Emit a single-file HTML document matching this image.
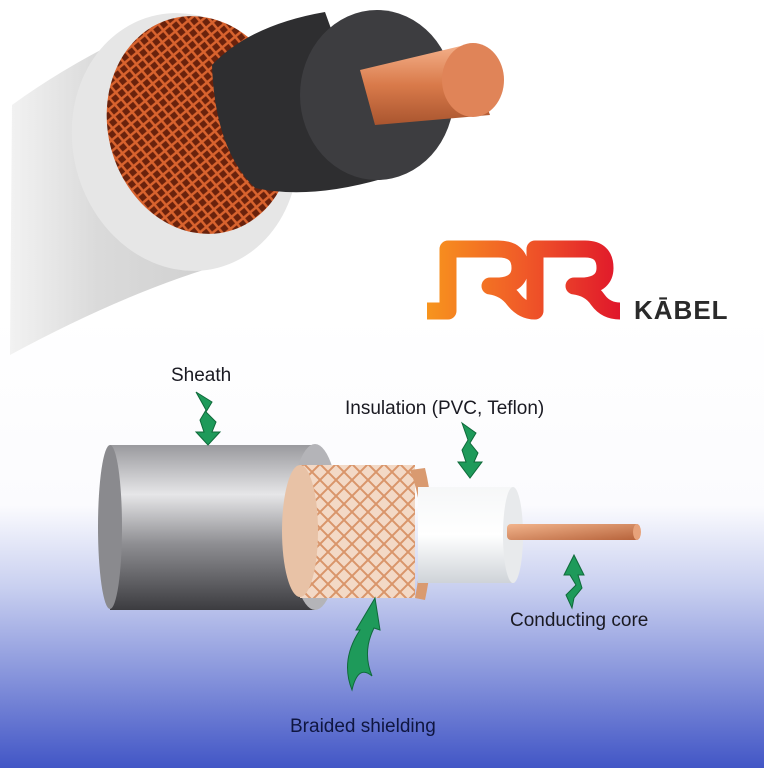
<!DOCTYPE html>
<html><head><meta charset="utf-8"><style>
body{margin:0;width:768px;height:768px;overflow:hidden;background:#fff;font-family:"Liberation Sans",sans-serif}
svg{display:block}
</style></head><body>
<svg width="768" height="768" viewBox="0 0 768 768" xmlns="http://www.w3.org/2000/svg">
<defs>
<linearGradient id="bg" x1="0" y1="0" x2="0" y2="1">
<stop offset="0" stop-color="#fff"/><stop offset="0.42" stop-color="#fbfbfe"/><stop offset="0.6" stop-color="#c9d0f0"/><stop offset="1" stop-color="#4256c6"/></linearGradient>
<linearGradient id="sheath" x1="0" y1="0" x2="0" y2="1">
<stop offset="0" stop-color="#9a9a9e"/><stop offset="0.3" stop-color="#e6e6e8"/><stop offset="0.6" stop-color="#8e8e92"/><stop offset="1" stop-color="#3c3c40"/></linearGradient>
<linearGradient id="cu" x1="0" y1="0" x2="0" y2="1">
<stop offset="0" stop-color="#f4b08a"/><stop offset="0.5" stop-color="#d97a4a"/><stop offset="1" stop-color="#a9552f"/></linearGradient>
<linearGradient id="ins" x1="0" y1="0" x2="0" y2="1">
<stop offset="0" stop-color="#f6f7f8"/><stop offset="0.5" stop-color="#ffffff"/><stop offset="1" stop-color="#cfd3d8"/></linearGradient>
<linearGradient id="logo" x1="0" y1="0" x2="1" y2="0">
<stop offset="0" stop-color="#f7941d"/><stop offset="0.5" stop-color="#f05a28"/><stop offset="1" stop-color="#e0162b"/></linearGradient>
<linearGradient id="tgrey" x1="0" y1="0" x2="1" y2="0">
<stop offset="0" stop-color="#f2f2f2"/><stop offset="0.4" stop-color="#dadada"/><stop offset="1" stop-color="#cfcfcf"/></linearGradient>
<linearGradient id="core2" x1="0" y1="0" x2="1" y2="1">
<stop offset="0" stop-color="#f2b48c"/><stop offset="1" stop-color="#b6623a"/></linearGradient>
<pattern id="braid" width="12" height="12" patternUnits="userSpaceOnUse" patternTransform="rotate(20)">
<rect width="12" height="12" fill="#6a220c"/>
<path d="M0 0L12 12M12 0L0 12" stroke="#d9632e" stroke-width="2.5"/></pattern>
<pattern id="braid2" width="16" height="16" patternUnits="userSpaceOnUse">
<rect width="16" height="16" fill="#f3d9c6"/>
<path d="M0 0L16 16M16 0L0 16" stroke="#d9956a" stroke-width="2"/></pattern>
</defs>
<rect width="768" height="768" fill="#fff"/>
<path d="M0 315 L756 315 Q764 315 764 325 L764 768 L0 768Z" fill="url(#bg)"/>
<!-- top cable -->
<path d="M12 105 Q60 70 120 40 L230 262 Q130 290 10 355Z" fill="url(#tgrey)"/>
<ellipse cx="185" cy="142" rx="112" ry="130" transform="rotate(-15 185 142)" fill="#e6e6e6"/>
<ellipse cx="200" cy="125" rx="92" ry="110" transform="rotate(-15 200 125)" fill="url(#braid)"/>
<path d="M212 65 Q250 25 325 12 L385 178 Q310 200 255 188 Q215 150 212 65Z" fill="#2e2e30"/>
<ellipse cx="377" cy="95" rx="77" ry="85" fill="#3d3d40"/>
<path d="M360 70 L465 45 L490 115 L375 125Z" fill="url(#cu)"/>
<ellipse cx="473" cy="80" rx="31" ry="37" fill="#e08458"/>
<!-- logo -->
<path d="M427 311 H448 V249 H498 Q520 249 520 268 Q520 284 500 286 H490 Q505 288 514 300 Q523 311 535 311 V249 H585 Q605 249 605 268 Q605 284 585 286 H574 Q590 288 598 300 Q606 311 620 311" fill="none" stroke="url(#logo)" stroke-width="17" stroke-linejoin="round"/>
<text x="634" y="319" font-size="26" font-weight="bold" fill="#2a2a2a" letter-spacing="1">KĀBEL</text>
<!-- bottom cable -->
<rect x="110" y="445" width="205" height="165" fill="url(#sheath)"/>
<ellipse cx="110" cy="527" rx="12" ry="82" fill="#8a8a8e"/>
<ellipse cx="315" cy="527" rx="25" ry="83" fill="#b4b4b8"/>
<path d="M300 465 H415 V598 H300Z" fill="url(#braid2)"/>
<ellipse cx="300" cy="531" rx="18" ry="66" fill="#e8c2a6"/>
<path d="M410 470 Q430 520 415 598 L425 600 Q440 530 425 468Z" fill="#d99a70"/>
<rect x="418" y="487" width="95" height="96" fill="url(#ins)"/>
<ellipse cx="513" cy="535" rx="10" ry="48" fill="#e8eaec"/>
<rect x="507" y="524" width="133" height="16" rx="4" fill="url(#core2)"/>
<ellipse cx="637" cy="532" rx="4" ry="8" fill="#e7a27a"/>
<!-- arrows -->
<g fill="#1e9a5a" stroke="#0f6a3a" stroke-width="1">
<path d="M196 392 L212 402 L206 412 L216 422 L212 432 L220 432 L208 445 L196 432 L204 432 L200 420 L206 410Z"/>
<path d="M462 423 L476 433 L470 443 L478 453 L474 462 L482 462 L470 478 L458 462 L466 462 L462 450 L468 440Z"/>
<path d="M572 608 L566 595 L576 585 L570 575 L564 575 L574 555 L584 575 L578 575 L582 588 L574 598Z"/>
<path d="M352 690 Q340 660 360 630 L356 630 L375 598 L380 630 L374 628 Q362 652 372 676 Q358 664 352 690Z"/>
</g>
<g font-size="19" fill="#1a1a22">
<text x="171" y="381">Sheath</text>
<text x="345" y="414">Insulation (PVC, Teflon)</text>
<text x="510" y="626">Conducting core</text>
<text x="290" y="732" fill="#0f1640">Braided shielding</text>
</g>
</svg>
</body></html>
